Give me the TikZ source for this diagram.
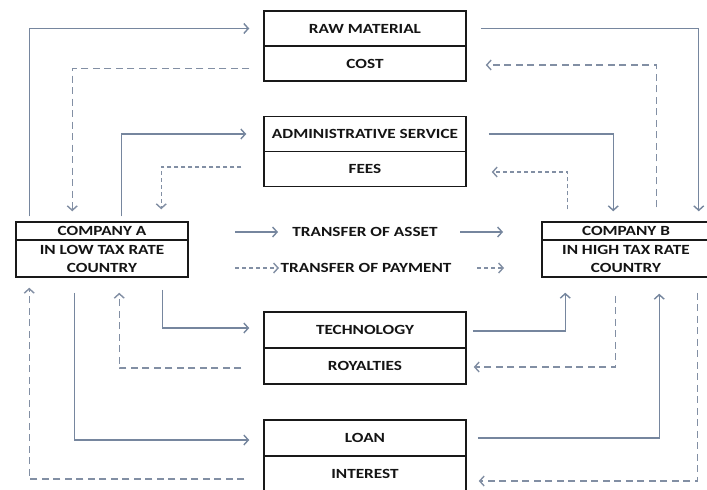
\documentclass[tikz,border=0pt]{standalone}
\usepackage{fontspec}
\setmainfont{Carlito}[FakeStretch=1.23]
\usetikzlibrary{arrows.meta}
\definecolor{arrowc}{RGB}{118,134,158}
\definecolor{dashc}{RGB}{130,143,164}
\definecolor{boxc}{RGB}{25,25,25}
\definecolor{textc}{RGB}{20,20,20}
\tikzset{
  lab/.style={font=\fontsize{14}{18}\selectfont\bfseries, text=textc},
  cell/.style={lab, draw=boxc, line width=1.5pt, minimum width=202pt, minimum height=35pt, inner sep=0pt},
  cellt/.style={cell, minimum height=36pt},
  comp/.style={lab, draw=boxc, line width=1.5pt, inner sep=0pt, align=center},
  flow/.style={draw=arrowc, line width=1.4pt, -{Straight Barb[length=4.5pt,width=10pt]}},
  pay/.style={flow, draw=dashc, dash pattern=on 7pt off 4.5pt},
  payshort/.style={flow, draw=dashc, dash pattern=on 4pt off 3pt},
}
\begin{document}
\begin{tikzpicture}[x=1pt,y=-1pt]
\useasboundingbox[fill=white] (0,0) rectangle (707,490);
% boxes
\node[cell] (raw) at (365,28.5) {RAW MATERIAL};
\node[cell] (cost) at (365,63.5) {COST};
\node[cell] (admin) at (365,134) {ADMINISTRATIVE SERVICE};
\node[cell] (fees) at (365,169) {FEES};
\node[cellt] (tech) at (365,330) {TECHNOLOGY};
\node[cellt] (roy) at (365,366) {ROYALTIES};
\node[cellt] (loan) at (365,438) {LOAN};
\node[cellt] (int) at (365,474) {INTEREST};
\node[comp, minimum width=172pt, minimum height=18pt] (compAt) at (102,231) {COMPANY A};
\node[comp, minimum width=172pt, minimum height=37pt] (compAb) at (102,258.5) {IN LOW TAX RATE\\COUNTRY};
\node[comp, minimum width=168pt, minimum height=18pt] (compBt) at (626,231) {COMPANY B};
\node[comp, minimum width=168pt, minimum height=37pt] (compBb) at (626,258.5) {IN HIGH TAX RATE\\COUNTRY};
% legend
\node[lab] (asset) at (365,232) {TRANSFER OF ASSET};
\node[lab] (pay) at (366,268) {TRANSFER OF PAYMENT};
\draw[flow] ([xshift=-130pt]asset.center) -- ([xshift=-87pt]asset.center);
\draw[flow] ([xshift=95pt]asset.center) -- ([xshift=138pt]asset.center);
\draw[payshort] ([xshift=-131pt]pay.center) -- ([xshift=-87pt]pay.center);
\draw[payshort] ([xshift=111pt]pay.center) -- ([xshift=138pt]pay.center);
% raw material / cost
\draw[flow] ([xshift=14pt,yshift=5pt]compAt.north west) |- ([xshift=-14pt]raw.west);
\draw[flow] ([xshift=14pt]raw.east) -| ([xshift=-12pt,yshift=10pt]compBt.north east);
\draw[pay] ([xshift=-14pt,yshift=-5pt]cost.west) -| ([xshift=57pt,yshift=10pt]compAt.north west);
\draw[pay] ([xshift=115pt,yshift=14pt]compBt.north west) |- ([xshift=19pt,yshift=-1.5pt]cost.east);
% administrative service / fees
\draw[flow] ([xshift=106pt,yshift=5pt]compAt.north west) |- ([xshift=-17pt]admin.west);
\draw[flow] ([xshift=22pt]admin.east) -| ([xshift=72pt,yshift=10pt]compBt.north west);
\draw[payshort] ([xshift=-22pt,yshift=2pt]fees.west) -| ([xshift=146pt,yshift=12pt]compAt.north west);
\draw[payshort] ([xshift=26pt,yshift=12pt]compBt.north west) |- ([xshift=25pt,yshift=-3pt]fees.east);
% technology / royalties
\draw[flow] ([xshift=147pt,yshift=-12pt]compAb.south west) |- ([xshift=-14pt,yshift=2pt]tech.west);
\draw[flow] ([xshift=6pt,yshift=-1pt]tech.east) -| ([xshift=24pt,yshift=-15pt]compBb.south west);
\draw[pay] ([xshift=-22pt,yshift=-2pt]roy.west) -| ([xshift=104pt,yshift=-15pt]compAb.south west);
\draw[pay] ([xshift=74pt,yshift=-18pt]compBb.south west) |- ([xshift=7pt,yshift=-1pt]roy.east);
% loan / interest
\draw[flow] ([xshift=59pt,yshift=-15pt]compAb.south west) |- ([xshift=-14pt,yshift=-2pt]loan.west);
\draw[flow] ([xshift=11pt]loan.east) -| ([xshift=118pt,yshift=-16pt]compBb.south west);
\draw[pay] ([xshift=156pt,yshift=-15pt]compBb.south west) |- ([xshift=12pt,yshift=-7pt]int.east);
\draw[pay] ([xshift=-19pt,yshift=-5pt]int.west) -| ([xshift=14pt,yshift=-10pt]compAb.south west);
\end{tikzpicture}
\end{document}
